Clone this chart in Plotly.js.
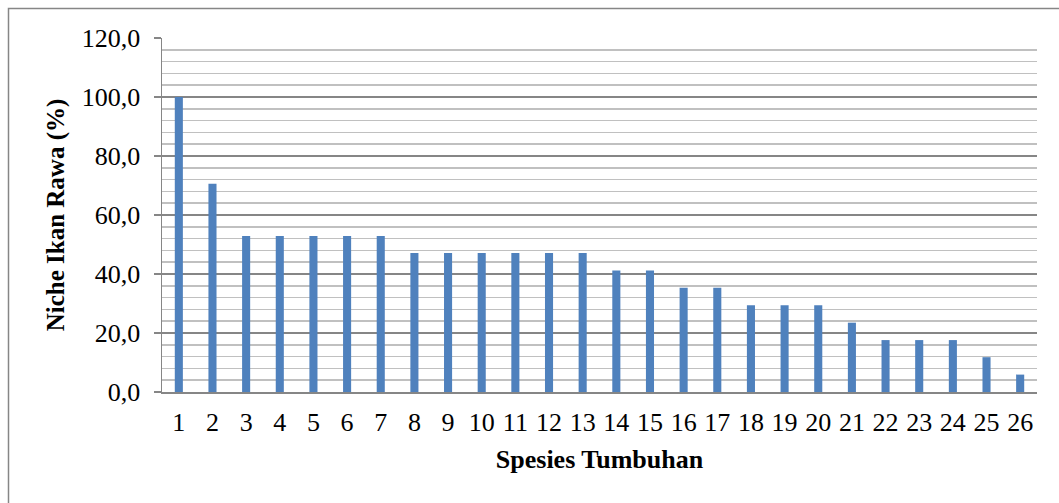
<!DOCTYPE html>
<html>
<head>
<meta charset="utf-8">
<script src="https://cdn.plot.ly/plotly-3.0.1.min.js"></script>
<style>html,body{margin:0;padding:0;background:#fff;}#chart{width:1059px;height:503px;}</style>
</head>
<body>
<div id="chart"></div>
<script>
const categories = ["1","2","3","4","5","6","7","8","9","10","11","12","13","14","15","16","17","18","19","20","21","22","23","24","25","26"];
const nicheValues = [100.0, 70.6, 52.9, 52.9, 52.9, 52.9, 52.9, 47.1, 47.1, 47.1, 47.1, 47.1, 47.1, 41.2, 41.2, 35.3, 35.3, 29.4, 29.4, 29.4, 23.5, 17.6, 17.6, 17.6, 11.8, 5.9];
const yTickValues = [0, 20, 40, 60, 80, 100, 120];

const W = 1059, H = 503;
const m = {l: 162, r: 22, t: 38, b: 111};
const pw = W - m.l - m.r, ph = H - m.t - m.b;
const px = v => (v - m.l) / pw;
const py = v => (H - m.b - v) / ph;

const font = "'Liberation Serif', 'Times New Roman', serif";

Plotly.newPlot('chart', [{
  type: 'bar',
  x: categories,
  y: nicheValues,
  marker: {color: '#4f81bd', line: {width: 0}},
  hoverinfo: 'x+y'
}], {
  width: W, height: H,
  margin: m,
  paper_bgcolor: '#fff', plot_bgcolor: '#fff',
  separators: ',.',
  bargap: 0.76,
  showlegend: false,
  font: {family: font, size: 26, color: '#000'},
  xaxis: {
    type: 'category',
    showline: true, linecolor: '#868686', linewidth: 1.5,
    ticks: '', showgrid: false,
    tickfont: {family: font, size: 26, color: '#000'},
    ticklabelstandoff: 6,
    title: {text: '<b>Spesies Tumbuhan</b>', font: {family: font, size: 26, color: '#000'}, standoff: 14}
  },
  yaxis: {
    range: [0, 120],
    tickvals: yTickValues,
    tickformat: '.1f',
    showline: true, linecolor: '#868686', linewidth: 1.5,
    ticks: 'outside', ticklen: 7, tickcolor: '#868686', tickwidth: 1.5,
    showgrid: true, gridcolor: '#868686', gridwidth: 1.5,
    minor: {dtick: 4, showgrid: true, gridcolor: '#c0c0c0', gridwidth: 1.5, ticks: ''},
    zeroline: false,
    tickfont: {family: font, size: 26, color: '#000'},
    ticklabelstandoff: 8,
    title: {text: '<b>Niche Ikan Rawa (%)</b>', font: {family: font, size: 25, color: '#000'}, standoff: 10}
  },
  shapes: [{
    type: 'rect', xref: 'paper', yref: 'paper',
    x0: px(8.5), x1: px(1070), y0: py(520), y1: py(8.5),
    line: {color: '#868686', width: 1.5}, fillcolor: 'rgba(0,0,0,0)', layer: 'below'
  }]
}, {displayModeBar: false, staticPlot: true});
</script>
</body>
</html>
